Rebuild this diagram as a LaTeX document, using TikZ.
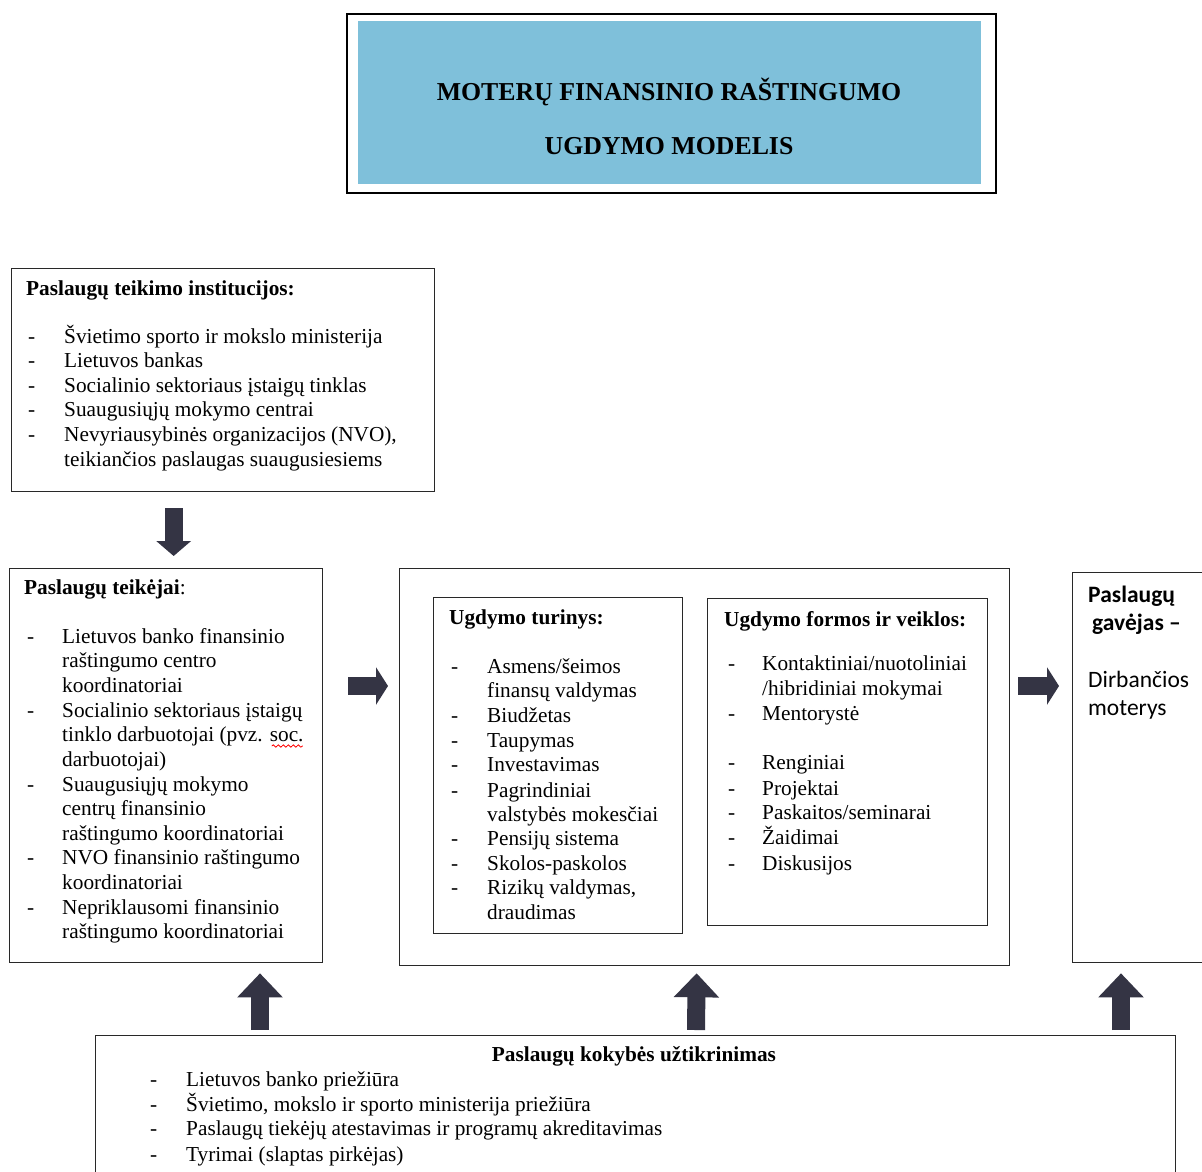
\documentclass[tikz,border=0pt]{standalone}
\usepackage{fontspec}
\setmainfont{Liberation Serif}
\newfontfamily\calibrifont{Carlito}
\usetikzlibrary{arrows.meta,decorations.pathmorphing}
\definecolor{titleblue}{RGB}{127,192,218}
\definecolor{arrowdark}{RGB}{52,52,68}
\definecolor{boxline}{RGB}{40,40,40}
\tikzset{
  x=1pt,y=1pt,
  box/.style={draw=boxline,line width=1.3pt,inner sep=0,anchor=north west},
  txt/.style={anchor=base west,inner sep=0,font=\fontsize{21.3}{24}\selectfont},
  hd/.style={txt,font=\fontsize{21.3}{24}\selectfont\bfseries},
  ttl/.style={anchor=base,inner sep=0,font=\fontsize{25.8}{30}\selectfont\bfseries},
  rcv/.style={anchor=base west,inner sep=0,font=\fontsize{23.5}{28}\selectfont\calibrifont},
  bigdown/.style={draw=arrowdark,line width=18pt,-{Triangle[width=34pt,length=15pt]}},
  bigright/.style={draw=arrowdark,line width=18pt,-{Triangle[width=37pt,length=12pt]}},
  bigup/.style={draw=arrowdark,line width=18pt,-{Triangle[width=44pt,length=24pt]}},
}
\begin{document}
\begin{tikzpicture}
\useasboundingbox (0,0) rectangle (1202,-1171);
\clip (0,0) rectangle (1202,-1171);
\fill[white] (0,0) rectangle (1202,-1171);

% title block
\node[draw=black,line width=1.8pt,inner sep=0,anchor=north west,minimum width=649,minimum height=179] (title) at (346,-13) {};
\fill[titleblue] (358,-21) rectangle (981,-184);
\node[ttl] (t1) at (669,-100) {MOTERŲ FINANSINIO RAŠTINGUMO};
\node[ttl] (t2) at (669,-154) {UGDYMO MODELIS};

% institutions
\node[box,minimum width=423,minimum height=223] (inst) at (11,-268) {};
\node[hd] (insth) at (26,-295) {Paslaugų teikimo institucijos:};
\node[txt] (ind1) at (28,-343) {-}; \node[txt] (in1) at (64,-343) {Švietimo sporto ir mokslo ministerija};
\node[txt] (ind2) at (28,-367) {-}; \node[txt] (in2) at (64,-367) {Lietuvos bankas};
\node[txt] (ind3) at (28,-392) {-}; \node[txt] (in3) at (64,-392) {Socialinio sektoriaus įstaigų tinklas};
\node[txt] (ind4) at (28,-416) {-}; \node[txt] (in4) at (64,-416) {Suaugusiųjų mokymo centrai};
\node[txt] (ind5) at (28,-441) {-}; \node[txt] (in5) at (64,-441) {Nevyriausybinės organizacijos (NVO),};
\node[txt] (in6) at (64,-466) {teikiančios paslaugas suaugusiesiems};

% providers
\node[box,minimum width=313,minimum height=394] (teik) at (9,-568) {};
\node[txt] (teikh) at (24,-594) {\textbf{Paslaugų teikėjai}:};
\node[txt] (pd1) at (27,-643) {-}; \node[txt] (p1) at (62,-643) {Lietuvos banko finansinio};
\node[txt] (p2) at (62,-667) {raštingumo centro};
\node[txt] (p3) at (62,-692) {koordinatoriai};
\node[txt] (pd2) at (27,-717) {-}; \node[txt] (p4) at (62,-717) {Socialinio sektoriaus įstaigų};
\node[txt] (p5) at (62,-741) {tinklo darbuotojai (pvz. soc.};
\node[txt] (p6) at (62,-766) {darbuotojai)};
\node[txt] (pd3) at (27,-791) {-}; \node[txt] (p7) at (62,-791) {Suaugusiųjų mokymo};
\node[txt] (p8) at (62,-815) {centrų finansinio};
\node[txt] (p9) at (62,-840) {raštingumo koordinatoriai};
\node[txt] (pd4) at (27,-864) {-}; \node[txt] (p10) at (62,-864) {NVO finansinio raštingumo};
\node[txt] (p11) at (62,-889) {koordinatoriai};
\node[txt] (pd5) at (27,-914) {-}; \node[txt] (p12) at (62,-914) {Nepriklausomi finansinio};
\node[txt] (p13) at (62,-938) {raštingumo koordinatoriai};
% spell-check squiggle under "soc."
\draw[red,line width=0.8pt,decorate,decoration={snake,amplitude=1.2pt,segment length=5pt}] ([xshift=-32pt,yshift=-5pt]p5.base east) -- ([xshift=-1pt,yshift=-5pt]p5.base east);

% education block
\node[box,minimum width=610,minimum height=397] (mid) at (399,-568) {};
\node[box,minimum width=249,minimum height=336] (cont) at (433,-597) {};
\node[hd] (conth) at (449,-624) {Ugdymo turinys:};
\node[txt] (cd1) at (451,-673) {-}; \node[txt] (c1) at (487,-673) {Asmens/šeimos};
\node[txt] (c2) at (487,-697) {finansų valdymas};
\node[txt] (cd2) at (451,-722) {-}; \node[txt] (c3) at (487,-722) {Biudžetas};
\node[txt] (cd3) at (451,-747) {-}; \node[txt] (c4) at (487,-747) {Taupymas};
\node[txt] (cd4) at (451,-771) {-}; \node[txt] (c5) at (487,-771) {Investavimas};
\node[txt] (cd5) at (451,-797) {-}; \node[txt] (c6) at (487,-797) {Pagrindiniai};
\node[txt] (c7) at (487,-821) {valstybės mokesčiai};
\node[txt] (cd6) at (451,-845) {-}; \node[txt] (c8) at (487,-845) {Pensijų sistema};
\node[txt] (cd7) at (451,-870) {-}; \node[txt] (c9) at (487,-870) {Skolos-paskolos};
\node[txt] (cd8) at (451,-894) {-}; \node[txt] (c10) at (487,-894) {Rizikų valdymas,};
\node[txt] (c11) at (487,-919) {draudimas};

\node[box,minimum width=280,minimum height=327] (form) at (707,-598) {};
\node[hd] (formh) at (724,-626) {Ugdymo formos ir veiklos:};
\node[txt] (fd1) at (728,-670) {-}; \node[txt] (f1) at (762,-670) {Kontaktiniai/nuotoliniai};
\node[txt] (f2) at (762,-695) {/hibridiniai mokymai};
\node[txt] (fd2) at (728,-720) {-}; \node[txt] (f3) at (762,-720) {Mentorystė};
\node[txt] (fd3) at (728,-769) {-}; \node[txt] (f4) at (762,-769) {Renginiai};
\node[txt] (fd4) at (728,-795) {-}; \node[txt] (f5) at (762,-795) {Projektai};
\node[txt] (fd5) at (728,-819) {-}; \node[txt] (f6) at (762,-819) {Paskaitos/seminarai};
\node[txt] (fd6) at (728,-844) {-}; \node[txt] (f7) at (762,-844) {Žaidimai};
\node[txt] (fd7) at (728,-870) {-}; \node[txt] (f8) at (762,-870) {Diskusijos};

% recipient
\node[box,minimum width=140,minimum height=390] (recv) at (1072,-572) {};
\node[rcv,font=\fontsize{23.5}{28}\selectfont\calibrifont\bfseries] (r1) at (1088,-602) {Paslaugų};
\node[rcv,font=\fontsize{23.5}{28}\selectfont\calibrifont\bfseries] (r2) at (1092,-630) {gavėjas –};
\node[rcv] (r3) at (1088,-687) {Dirbančios};
\node[rcv] (r4) at (1088,-715) {moterys};

% quality assurance
\node[box,minimum width=1080,minimum height=160] (qual) at (95,-1035) {};
\node[hd,anchor=base] (qualh) at (634,-1061) {Paslaugų kokybės užtikrinimas};
\node[txt] (qd1) at (150,-1086) {-}; \node[txt] (q1) at (186,-1086) {Lietuvos banko priežiūra};
\node[txt] (qd2) at (150,-1111) {-}; \node[txt] (q2) at (186,-1111) {Švietimo, mokslo ir sporto ministerija priežiūra};
\node[txt] (qd3) at (150,-1135) {-}; \node[txt] (q3) at (186,-1135) {Paslaugų tiekėjų atestavimas ir programų akreditavimas};
\node[txt] (qd4) at (150,-1161) {-}; \node[txt] (q4) at (186,-1161) {Tyrimai (slaptas pirkėjas)};

% block arrows between the boxes
\draw[bigdown] ([xshift=-49.5pt,yshift=-16pt]inst.south) -- ([xshift=7.5pt,yshift=12pt]teik.north);
\draw[bigright] ([xshift=25pt,yshift=-118pt]teik.north east) -- ([xshift=-11pt,yshift=-118pt]mid.north west);
\draw[bigright] ([xshift=8pt,yshift=-118pt]mid.north east) -- ([xshift=-13pt,yshift=-114pt]recv.north west);
\draw[bigup] ([xshift=165pt,yshift=5pt]qual.north west) -- ([xshift=251pt,yshift=-10pt]teik.south west);
\draw[bigup] ([xshift=601pt,yshift=5pt]qual.north west) -- ([xshift=-8pt,yshift=-7pt]mid.south);
\draw[bigup] ([xshift=1026pt,yshift=5pt]qual.north west) -- ([xshift=49pt,yshift=-10pt]recv.south west);
\end{tikzpicture}
\end{document}
